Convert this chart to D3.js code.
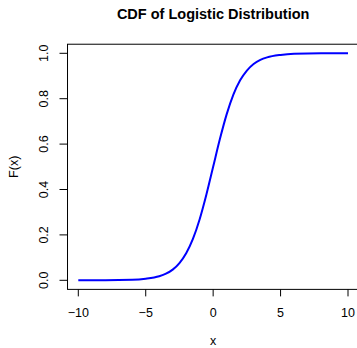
<!DOCTYPE html>
<html>
<head>
<meta charset="utf-8">
<script src="https://cdn.jsdelivr.net/npm/d3@7"></script>
<style>
  body { margin: 0; background: #fff; }
  svg { display: block; font-family: "Liberation Sans", Arial, sans-serif; }
</style>
</head>
<body>
<svg id="chart" width="357" height="348"></svg>
<script>
// values
var xVals = [-10, -8, -6, -5, -4, -3.5, -3, -2.5, -2, -1.5, -1, -0.5, 0, 0.5, 1, 1.5, 2, 2.5, 3, 3.5, 4, 5, 6, 8, 10];
var fVals = [0.000, 0.000, 0.002, 0.007, 0.018, 0.029, 0.047, 0.076, 0.119, 0.182, 0.269, 0.378, 0.500,
             0.622, 0.731, 0.818, 0.881, 0.924, 0.953, 0.971, 0.982, 0.993, 0.998, 1.000, 1.000];
var xTicks = [-10, -5, 0, 5, 10];
var yTicks = [0.0, 0.2, 0.4, 0.6, 0.8, 1.0];

var svg = d3.select("#chart");

var x = d3.scaleLinear().domain([-10, 10]).range([78.3, 348]);
var y = d3.scaleLinear().domain([0, 1]).range([280.3, 53.3]);

var boxL = x(-10.8), boxR = x(10.8), boxT = y(1.04), boxB = y(-0.04);

// plot box
svg.append("rect")
    .attr("x", boxL).attr("y", boxT)
    .attr("width", boxR - boxL).attr("height", boxB - boxT)
    .attr("fill", "none").attr("stroke", "#000").attr("stroke-width", 1);

// x axis
var xa = svg.append("g");
xa.selectAll("line").data(xTicks).enter().append("line")
    .attr("x1", function (d) { return x(d); }).attr("x2", function (d) { return x(d); })
    .attr("y1", boxB).attr("y2", boxB + 7)
    .attr("stroke", "#000");
xa.selectAll("text").data(xTicks).enter().append("text")
    .attr("x", function (d) { return x(d); })
    .attr("y", 317)
    .attr("text-anchor", "middle")
    .attr("font-size", 12.5)
    .text(function (d) { return d < 0 ? "\u2212" + Math.abs(d) : d; });

// y axis
var ya = svg.append("g");
ya.selectAll("line").data(yTicks).enter().append("line")
    .attr("x1", boxL - 8).attr("x2", boxL)
    .attr("y1", function (d) { return y(d); }).attr("y2", function (d) { return y(d); })
    .attr("stroke", "#000");
ya.selectAll("text").data(yTicks).enter().append("text")
    .attr("transform", function (d) { return "translate(48," + y(d) + ") rotate(-90)"; })
    .attr("text-anchor", "middle")
    .attr("font-size", 12.5)
    .text(function (d) { return d.toFixed(1); });

// labels
svg.append("text")
    .attr("x", (boxL + boxR) / 2).attr("y", 18.5)
    .attr("text-anchor", "middle")
    .attr("font-size", 14.5).attr("font-weight", "bold")
    .text("CDF of Logistic Distribution");
svg.append("text")
    .attr("x", (boxL + boxR) / 2).attr("y", 345)
    .attr("text-anchor", "middle")
    .attr("font-size", 12.5)
    .text("x");
svg.append("text")
    .attr("transform", "translate(18," + ((boxT + boxB) / 2) + ") rotate(-90)")
    .attr("text-anchor", "middle")
    .attr("font-size", 12.5)
    .text("F(x)");

// curve
var line = d3.line()
    .x(function (d, i) { return x(xVals[i]); })
    .y(function (d) { return y(d); })
    .curve(d3.curveMonotoneX);

svg.append("path")
    .attr("d", line(fVals))
    .attr("fill", "none")
    .attr("stroke", "#0000ff")
    .attr("stroke-width", 2);
</script>
</body>
</html>
